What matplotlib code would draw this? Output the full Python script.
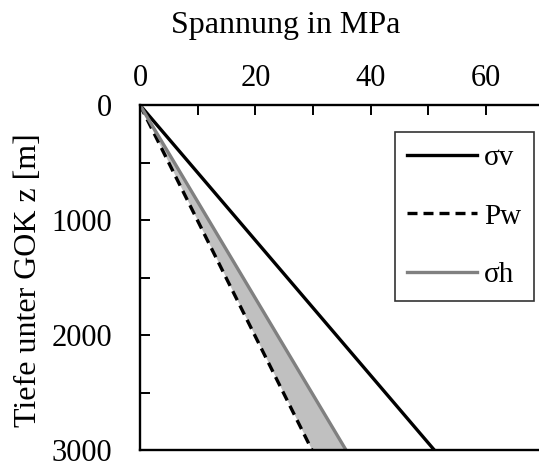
import matplotlib.pyplot as plt
from matplotlib.ticker import MultipleLocator

# depth in m, stresses in MPa
depth = [0, 3000]
sigma_v = [0, 51.0]
p_w = [0, 29.8]
sigma_h = [0, 35.7]

plt.rcParams['font.family'] = ['Liberation Serif', 'DejaVu Serif']

fig = plt.figure(figsize=(5.39, 4.63), dpi=100)
ax = fig.add_axes([0.2597, 0.0281, 0.7403, 0.745])

ax.fill_betweenx(depth, p_w, sigma_h, color='#c0c0c0', lw=0)
ax.plot(sigma_v, depth, color='black', lw=2.4, label='σv')
ax.plot(p_w, depth, color='black', lw=2.4, ls=(0, (3.0, 1.8)), label='Pw')
ax.plot(sigma_h, depth, color='#808080', lw=2.4, label='σh')

ax.set_xlim(0, 69.15)
ax.set_ylim(3000, 0)
ax.xaxis.set_ticks_position('top')
ax.xaxis.set_label_position('top')
ax.xaxis.set_major_locator(MultipleLocator(20))
ax.xaxis.set_minor_locator(MultipleLocator(10))
ax.yaxis.set_major_locator(MultipleLocator(1000))
ax.yaxis.set_minor_locator(MultipleLocator(500))
ax.tick_params(which='both', direction='in', length=7, width=1.4,
               labelsize=22)
ax.tick_params(axis='y', which='both', pad=20)
ax.tick_params(axis='x', which='both', pad=9)
for side in ['top', 'left', 'bottom']:
    ax.spines[side].set_linewidth(1.7)
ax.spines['right'].set_visible(False)

ax.set_xlabel('Spannung in MPa', fontsize=23)
ax.xaxis.set_label_coords(0.366, 1.232)
ax.xaxis.label.set_va('center')
ax.set_ylabel('Tiefe unter GOK z [m]', fontsize=23)
ax.yaxis.set_label_coords(-0.280, 0.493)
ax.yaxis.label.set_va('center')

leg = ax.legend(loc='upper right', bbox_to_anchor=(0.9875, 0.9217),
                fontsize=21, frameon=True, fancybox=False,
                handlelength=2.4, handletextpad=0.25, labelspacing=1.1,
                borderpad=0.43, borderaxespad=0)
leg.get_frame().set_edgecolor('black')
leg.get_frame().set_linewidth(1.2)

fig.savefig('out.png', dpi=100)
